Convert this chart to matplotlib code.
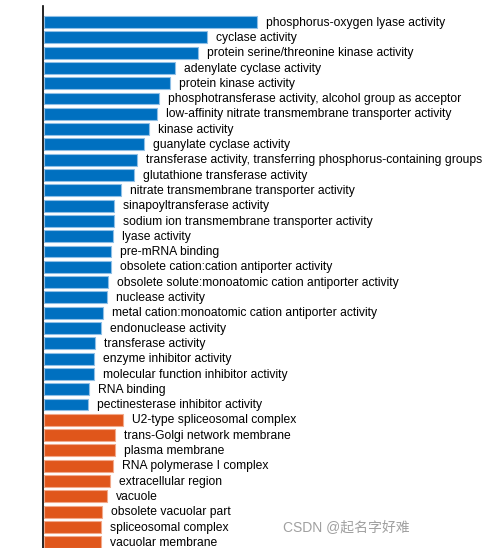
"""GO enrichment bar chart (molecular function vs cellular component)."""

import matplotlib

matplotlib.use("Agg")
import matplotlib.pyplot as plt

mf_terms = [
    "phosphorus-oxygen lyase activity",
    "cyclase activity",
    "protein serine/threonine kinase activity",
    "adenylate cyclase activity",
    "protein kinase activity",
    "phosphotransferase activity, alcohol group as acceptor",
    "low-affinity nitrate transmembrane transporter activity",
    "kinase activity",
    "guanylate cyclase activity",
    "transferase activity, transferring phosphorus-containing groups",
    "glutathione transferase activity",
    "nitrate transmembrane transporter activity",
    "sinapoyltransferase activity",
    "sodium ion transmembrane transporter activity",
    "lyase activity",
    "pre-mRNA binding",
    "obsolete cation:cation antiporter activity",
    "obsolete solute:monoatomic cation antiporter activity",
    "nuclease activity",
    "metal cation:monoatomic cation antiporter activity",
    "endonuclease activity",
    "transferase activity",
    "enzyme inhibitor activity",
    "molecular function inhibitor activity",
    "RNA binding",
    "pectinesterase inhibitor activity",
]
mf_values = [213, 163, 154, 131, 126, 115, 113, 105, 100, 93, 90, 77, 70,
             70, 69, 67, 67, 64, 63, 59, 57, 51, 50, 50, 45, 44]

cc_terms = [
    "U2-type spliceosomal complex",
    "trans-Golgi network membrane",
    "plasma membrane",
    "RNA polymerase I complex",
    "extracellular region",
    "vacuole",
    "obsolete vacuolar part",
    "spliceosomal complex",
    "vacuolar membrane",
]
cc_values = [79, 71, 71, 69, 66, 63, 58, 57, 57]

MF_COLOR = "#0070c0"
CC_COLOR = "#e0561b"

terms = mf_terms + cc_terms
values = mf_values + cc_values
colors = [MF_COLOR] * len(mf_terms) + [CC_COLOR] * len(cc_terms)
edges = ["#8fbfe6"] * len(mf_terms) + ["#f2a98a"] * len(cc_terms)

plt.rcParams["font.family"] = ["Liberation Sans", "DejaVu Sans"]

fig = plt.figure(figsize=(5.02, 5.48), dpi=100)
W, H = 502, 548
ax = fig.add_axes([43 / W, 0, (W - 43) / W, (H - 6) / H])

pos = list(range(len(terms)))
ax.barh(pos, values, height=0.78, color=colors, edgecolor=edges, linewidth=0.8)

for y, v, t in zip(pos, values, terms):
    ax.annotate(t, (v, y), xytext=(6.5, -0.5), textcoords="offset points",
                va="center", ha="left", fontsize=8.7, color="#000000")

step = 15.3
ax.set_xlim(-1, W - 44)
ax.set_ylim((H - 22) / step, -(22 - 6) / step)

for s in ["top", "right", "bottom"]:
    ax.spines[s].set_visible(False)
ax.spines["left"].set_linewidth(1.2)
ax.set_xticks([])
ax.set_yticks([])

fig.text(283 / W, 1 - 528 / H, "CSDN @起名字好难", fontsize=10,
         color="#a0a0a0", family=["Liberation Sans", "Noto Sans CJK SC"],
         va="center", ha="left")

fig.savefig("out.png", dpi=100)
plt.close(fig)
